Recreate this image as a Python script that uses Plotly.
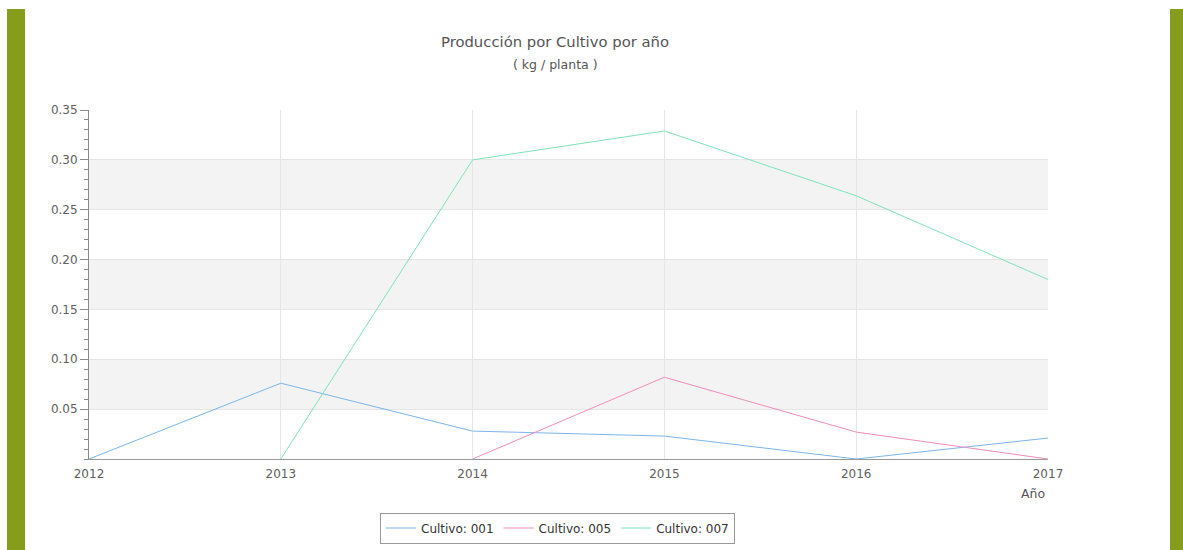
import plotly.graph_objects as go

years = [2012, 2013, 2014, 2015, 2016, 2017]
cultivo_001 = [0.0, 0.076, 0.028, 0.023, 0.0, 0.021]
years_005 = [2014, 2015, 2016, 2017]
cultivo_005 = [0.0, 0.082, 0.027, 0.0]
years_007 = [2013, 2014, 2015, 2016, 2017]
cultivo_007 = [0.0, 0.300, 0.329, 0.264, 0.180]
y_ticks = [0.05, 0.10, 0.15, 0.20, 0.25, 0.30, 0.35]
bands = [(0.05, 0.10), (0.15, 0.20), (0.25, 0.30)]

W, H = 1183, 550
L, R, T, B = 89, 1048, 110, 459
pw, ph = R - L, B - T

def px(x):
    return (x - L) / pw

def py(y):
    return (B - y) / ph

FONT = "DejaVu Sans"
fig = go.Figure()
fig.add_trace(go.Scatter(x=years, y=cultivo_001, mode="lines", name="Cultivo: 001",
                         line=dict(color="#7cb5ec", width=1)))
fig.add_trace(go.Scatter(x=years_005, y=cultivo_005, mode="lines", name="Cultivo: 005",
                         line=dict(color="#f28cbd", width=1)))
fig.add_trace(go.Scatter(x=years_007, y=cultivo_007, mode="lines", name="Cultivo: 007",
                         line=dict(color="#7fe3b8", width=1)))

shapes = []
for a, b in bands:
    shapes.append(dict(type="rect", xref="paper", yref="y", x0=0, x1=1, y0=a, y1=b,
                       fillcolor="#f3f3f3", line=dict(width=0), layer="below"))
for x0, x1 in [(7, 25), (1170, 1183)]:
    shapes.append(dict(type="rect", xref="paper", yref="paper", x0=px(x0), x1=px(x1),
                       y0=py(551), y1=py(9), fillcolor="#869d1b", line=dict(width=0),
                       layer="below"))

fig.update_layout(
    width=W, height=H,
    margin=dict(l=L, r=W - R, t=T, b=H - B, pad=0),
    paper_bgcolor="white", plot_bgcolor="white",
    font=dict(family=FONT, size=11, color="#555555"),
    shapes=shapes,
    showlegend=True,
    legend=dict(orientation="h", xref="container", yref="container",
                x=557.5 / W, xanchor="center", y=(H - 528) / H, yanchor="middle",
                bordercolor="#999999", borderwidth=1, font=dict(size=12, color="#333333"),
                itemwidth=30, tracegroupgap=0, traceorder="normal"),
    xaxis=dict(range=[2012, 2017], tickvals=years, ticktext=[str(y) for y in years],
               showgrid=True, gridcolor="#e6e6e6", gridwidth=1, zeroline=False,
               showline=True, linecolor="#999999", linewidth=1, ticks="",
               automargin=False,
               tickfont=dict(size=12, color="#606060"), ticklabelstandoff=4),
    yaxis=dict(range=[0, 0.35], tickvals=y_ticks, ticktext=[f"{v:.2f}" for v in y_ticks],
               showgrid=True, gridcolor="#e6e6e6", gridwidth=1, zeroline=False,
               showline=True, linecolor="#888888", linewidth=1, automargin=False,
               ticks="outside", ticklen=8, tickcolor="#888888", tickwidth=1,
               tickfont=dict(size=12, color="#606060"),
               minor=dict(dtick=0.01, tick0=0, ticks="outside", ticklen=4,
                          tickcolor="#888888", tickwidth=1, showgrid=False)),
    annotations=[
        dict(text="Producción por Cultivo por año", xref="paper", yref="paper",
             x=px(555), y=py(42), xanchor="center", yanchor="middle", showarrow=False,
             font=dict(size=14.8, color="#555555")),
        dict(text="( kg / planta )", xref="paper", yref="paper",
             x=px(555), y=py(64), xanchor="center", yanchor="middle", showarrow=False,
             font=dict(size=12.5, color="#555555")),
        dict(text="Año", xref="paper", yref="paper",
             x=px(1047), y=py(493), xanchor="right", yanchor="middle", showarrow=False,
             font=dict(size=12.5, color="#555555")),
    ],
)

fig.write_html("out.html", config={"displayModeBar": False},
               post_script="document.body.style.margin='0';document.body.style.overflow='hidden';")
